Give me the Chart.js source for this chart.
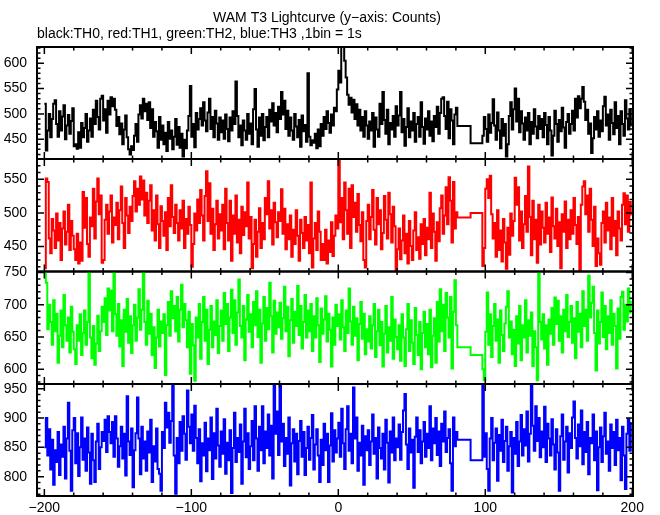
<!DOCTYPE html>
<html>
<head>
<meta charset="utf-8">
<script src="https://cdn.jsdelivr.net/npm/chart.js@4.4.0/dist/chart.umd.min.js"></script>
<style>
body { margin: 0; background: #ffffff; }
#wrap { position: relative; width: 660px; height: 515px; background: #ffffff; }
#wrap canvas { position: absolute; left: 0; top: 0; }
</style>
</head>
<body>
<div id="wrap">
  <canvas id="p0" width="660" height="515"></canvas>
  <canvas id="p1" width="660" height="515"></canvas>
  <canvas id="p2" width="660" height="515"></canvas>
  <canvas id="p3" width="660" height="515"></canvas>
</div>
<script>
// 1 bin = 1 s ; first stretch starts at -200, second at 98, two long bins in the gap
var seg1Start = -200;
var seg2Start = 98;
var gapTimes = [81, 90];
var xTicks = [-200, -100, 0, 100, 200];

// TH0 (black)
var th0A = [
  520,428,467,500,454,490,520,527,480,455,505,467,495,517,450,477,498,461,486,511,
  436,440,431,464,433,482,454,472,500,445,467,491,455,508,480,526,494,469,530,536,
  487,509,463,526,499,533,515,530,508,476,494,460,481,440,469,497,454,430,420,436,
  429,457,480,445,499,517,491,530,505,520,488,523,472,509,455,484,466,433,494,449,
  477,440,463,427,484,451,467,430,455,490,439,474,433,461,416,449,432,467,496,555,
  455,480,434,502,469,490,511,477,523,487,466,503,530,470,494,454,506,481,449,493,
  464,487,451,499,470,446,493,467,505,480,564,496,454,477,438,487,467,449,500,461,
  481,440,509,549,469,435,493,457,500,448,474,494,454,508,485,521,477,502,464,514,
  490,543,499,526,470,506,457,493,467,449,500,475,454,488,435,497,466,478,445,580,
  455,438,448,443,461,432,469,436,480,457,494,470,505,482,463,499,477,512,505,548,
  585,562,632,634,605,572,538,518,532,503,528,490,519,477,508,467,494,455,505,477,
  451,485,467,502,435,493,469,455,520,480,543,488,461,508,440,482,469,496,455,515,
  477,497,543,464,490,437,474,511,454,485,467,502,445,480,494,455,523,474,441,491,
  469,505,457,485,446,496,474,514,461,502,530,533,496,470,524,452,509,487,440,499,
  512];
var th0Gap = [476, 442];
var th0B = [
  457,494,470,445,499,463,482,529,477,449,503,467,432,490,457,480,416,440,496,523,
  469,509,550,485,530,464,505,481,449,493,467,502,440,484,461,509,475,452,496,470,
  490,454,502,478,440,494,467,418,457,506,480,445,488,466,512,473,433,484,500,461,
  480,506,467,530,493,535,511,530,553,524,488,508,461,481,423,452,494,469,505,455,
  487,466,515,534,477,499,449,508,482,460,523,472,496,440,505,480,457,527,491,469,
  509,475];

// TH1 (red)
var th1A = [
  418,551,546,462,440,491,474,448,499,459,485,430,477,502,453,472,512,445,488,466,
  446,430,469,425,456,429,531,478,522,454,435,493,480,536,462,517,551,498,526,426,
  430,490,512,469,502,526,456,493,482,515,461,504,539,485,448,522,496,470,509,488,
  525,547,502,536,512,554,520,548,496,530,485,518,541,474,504,459,526,483,448,510,
  488,466,501,445,522,480,541,494,470,512,485,459,504,477,518,448,491,469,509,482,
  420,454,499,474,520,485,534,496,459,525,562,488,544,469,506,445,483,518,462,498,
  474,512,446,536,485,459,518,429,496,469,526,456,490,440,509,467,501,480,545,462,
  494,418,454,490,435,472,507,448,485,461,522,498,547,477,504,453,515,486,464,501,
  488,535,469,506,446,483,461,496,435,475,454,504,466,429,490,470,448,494,459,482,
  440,545,419,462,485,445,502,472,430,454,430,475,425,459,442,486,436,466,496,477,
  579,486,522,461,545,504,469,536,448,541,494,515,472,528,482,458,501,430,419,488,
  512,461,494,534,475,453,522,483,504,446,470,525,490,462,530,498,456,509,480,415,
  446,477,431,459,496,440,469,425,488,451,430,474,501,445,464,432,483,454,491,437,
  478,461,530,448,499,472,429,486,458,507,526,469,496,538,483,553,518,456,546,477,
  501];
var th1Gap = [493, 500];
var th1B = [
  421,448,536,550,522,555,498,462,485,435,504,445,474,428,491,456,417,478,438,499,
  466,488,552,512,538,459,502,448,483,525,472,569,494,437,518,461,490,426,512,453,
  502,478,456,515,469,493,442,523,480,462,506,451,486,418,498,472,517,448,490,461,
  504,469,522,482,454,494,415,512,539,547,498,526,472,536,490,451,509,421,462,440,
  423,485,502,456,515,474,493,446,522,466,488,437,502,477,459,512,529,483,526,472,
  516,496];

// TH2 (green)
var th2A = [
  750,734,662,700,673,638,707,659,686,610,652,691,634,715,668,644,680,626,697,658,
  631,608,668,644,685,622,656,691,638,673,750,649,617,667,607,640,683,628,659,697,
  673,710,653,725,691,722,659,750,685,652,701,635,676,605,692,658,709,641,682,625,
  668,700,644,680,724,661,692,750,673,638,706,655,686,622,665,602,649,692,635,674,
  656,685,591,668,704,652,721,679,698,659,712,643,692,731,665,701,676,634,689,593,
  670,637,582,680,649,701,616,673,712,644,692,608,661,698,634,674,653,707,625,667,
  691,644,718,670,701,628,680,723,656,707,638,688,739,667,649,698,614,677,715,658,
  685,634,704,668,721,650,692,610,671,712,644,695,662,734,682,626,706,655,688,665,
  703,647,679,728,659,697,620,676,709,641,689,667,729,653,698,632,673,715,649,691,
  659,701,628,682,649,710,668,611,694,655,677,713,643,686,661,604,680,638,700,667,
  685,646,707,665,628,691,656,725,674,638,697,652,679,614,670,704,647,686,623,662,
  643,682,632,668,701,619,659,692,637,673,604,655,698,626,665,644,712,616,677,650,
  631,668,613,685,649,605,662,701,628,676,641,608,695,653,622,673,600,656,689,634,
  670,623,692,603,652,679,610,704,643,724,659,700,628,718,680,649,712,601,689,738,
  668];
var th2Gap = [634, 622];
var th2B = [
  600,583,658,719,638,685,619,667,701,644,677,610,691,653,628,671,697,721,649,674,
  623,661,605,682,640,698,614,668,649,707,626,676,652,688,605,659,634,583,748,673,
  646,685,632,668,607,677,655,695,638,711,670,706,644,682,626,692,659,715,650,673,
  698,641,679,617,704,658,686,634,721,667,692,644,745,680,703,728,656,598,691,640,
  673,719,650,698,631,682,656,707,638,686,667,601,694,647,712,720,661,700,674,725,
  688,706];

// TH3 (blue)
var th3A = [
  850,900,836,881,812,863,786,845,825,876,803,855,834,885,797,865,926,844,776,879,
  900,823,874,801,850,901,829,865,810,884,841,788,873,828,791,860,890,813,850,876,
  861,897,842,903,876,857,893,834,903,865,817,852,885,831,873,802,937,860,837,882,
  782,845,874,935,865,804,885,831,860,810,877,841,897,791,852,826,882,813,805,776,
  876,849,926,884,909,858,895,960,836,771,866,823,893,844,903,873,829,947,885,857,
  906,844,921,866,823,881,792,857,836,892,809,865,845,901,796,874,831,916,853,817,
  877,839,898,805,858,828,879,772,849,909,825,866,842,889,788,860,916,833,874,813,
  852,895,828,920,865,810,885,845,920,823,877,849,906,836,887,797,958,873,911,837,
  960,860,890,818,866,839,901,785,857,881,826,873,804,861,895,834,876,803,849,885,
  829,866,905,812,855,881,836,791,863,820,890,845,873,791,853,908,826,879,841,865,
  892,834,916,857,813,881,920,844,873,823,952,865,901,810,858,836,887,786,869,845,
  879,820,860,906,839,866,797,884,849,831,873,812,897,858,790,877,841,901,828,865,
  850,889,829,876,913,941,855,813,882,841,863,781,868,901,842,879,823,860,893,834,
  873,849,920,828,882,857,900,837,877,818,890,860,911,842,866,881,823,776,901,852,
  876];
var th3Gap = [863, 828];
var th3B = [
  958,834,874,813,776,865,900,828,858,882,793,871,844,897,825,861,885,810,852,876,
  773,866,839,893,818,860,905,836,881,853,911,826,873,961,887,844,920,861,900,833,
  877,850,919,825,890,865,836,898,855,812,881,841,776,869,906,829,860,885,807,874,
  849,901,928,866,831,889,852,913,821,876,842,893,804,866,857,906,828,877,777,850,
  884,825,869,909,839,860,810,889,849,876,820,897,845,866,794,885,836,779,873,898,
  844,893];

var yMins = [411, 413, 577, 767];
var yMaxs = [632, 580, 751.5, 958];

var titleText = 'WAM T3 Lightcurve (y\u2212axis: Counts)';
var subText = 'black:TH0, red:TH1, green:TH2, blue:TH3 ,1bin = 1s';

var FONT = '"Liberation Sans", Arial, Helvetica, sans-serif';
Chart.defaults.font.family = FONT;
Chart.defaults.font.size = 14;
Chart.defaults.color = '#000000';

function makePoints(a, gap, b) {
  var pts = [];
  for (var i = 0; i < a.length; i++) pts.push({x: seg1Start + i, y: a[i]});
  for (var j = 0; j < gap.length; j++) pts.push({x: gapTimes[j], y: gap[j]});
  for (var k = 0; k < b.length; k++) pts.push({x: seg2Start + k, y: b[k]});
  return pts;
}

// frame + inward ticks on all four sides
var frameTicks = {
  id: 'frameTicks',
  afterDatasetsDraw: function(chart) {
    var ctx = chart.ctx, a = chart.chartArea;
    var xs = chart.scales.x, ys = chart.scales.y;
    ctx.save();
    ctx.strokeStyle = '#000000';
    ctx.lineWidth = 1.5;
    ctx.beginPath();
    for (var v = -200; v <= 200; v += 20) {
      var px = xs.getPixelForValue(v);
      var len = (v % 100 === 0) ? 7 : 3.5;
      ctx.moveTo(px, a.top); ctx.lineTo(px, a.top + len);
      ctx.moveTo(px, a.bottom); ctx.lineTo(px, a.bottom - len);
    }
    for (var w = Math.ceil(ys.min / 10) * 10; w <= ys.max; w += 10) {
      var py = ys.getPixelForValue(w);
      var l2 = (w % 50 === 0) ? 7 : 3.5;
      ctx.moveTo(a.left, py); ctx.lineTo(a.left + l2, py);
      ctx.moveTo(a.right, py); ctx.lineTo(a.right - l2, py);
    }
    ctx.stroke();
    ctx.lineWidth = 2;
    ctx.strokeRect(a.left, a.top, a.right - a.left, a.bottom - a.top);
    ctx.restore();
  }
};

var titles = {
  id: 'titles',
  afterDraw: function(chart) {
    if (chart.canvas.id !== 'p0') return;
    var ctx = chart.ctx;
    ctx.save();
    ctx.fillStyle = '#000000';
    ctx.font = '14px ' + FONT;
    ctx.textBaseline = 'alphabetic';
    ctx.textAlign = 'center';
    ctx.fillText(titleText, 327, 22);
    ctx.textAlign = 'left';
    ctx.fillText(subText, 37, 38);
    ctx.restore();
  }
};

var panels = [
  {id: 'p0', pts: makePoints(th0A, th0Gap, th0B), color: '#000000', top: 47, bottom: 159},
  {id: 'p1', pts: makePoints(th1A, th1Gap, th1B), color: '#ff0000', top: 159, bottom: 271.5},
  {id: 'p2', pts: makePoints(th2A, th2Gap, th2B), color: '#00ff00', top: 271.5, bottom: 384},
  {id: 'p3', pts: makePoints(th3A, th3Gap, th3B), color: '#0000ff', top: 384, bottom: 496}
];

panels.forEach(function(p, i) {
  var last = (i === panels.length - 1);
  new Chart(document.getElementById(p.id), {
    type: 'line',
    data: {
      datasets: [{
        data: p.pts,
        borderColor: p.color,
        borderWidth: 2,
        pointRadius: 0,
        stepped: 'before',   // each bin value holds until the next bin start
        fill: false
      }]
    },
    options: {
      responsive: false,
      animation: false,
      events: [],
      layout: {padding: {left: 0, right: 27, top: p.top, bottom: last ? 0 : 515 - p.bottom}},
      plugins: {legend: {display: false}, tooltip: {enabled: false}},
      scales: {
        x: {
          type: 'linear', min: -205, max: 200.5, display: last,
          grid: {display: false, drawTicks: false}, border: {display: false},
          afterBuildTicks: function(s) { s.ticks = xTicks.map(function(v) { return {value: v}; }); },
          ticks: {
            padding: 4, maxRotation: 0, autoSkip: false,
            callback: function(v) { return v < 0 ? '\u2212' + (-v) : String(v); }
          },
          afterFit: function(s) { if (last) s.height = 19; }
        },
        y: {
          min: yMins[i], max: yMaxs[i],
          grid: {display: false, drawTicks: false}, border: {display: false},
          ticks: {stepSize: 50, includeBounds: false, padding: 10},
          afterFit: function(s) { s.width = 37; }
        }
      }
    },
    plugins: [frameTicks, titles]
  });
});
</script>
</body>
</html>
